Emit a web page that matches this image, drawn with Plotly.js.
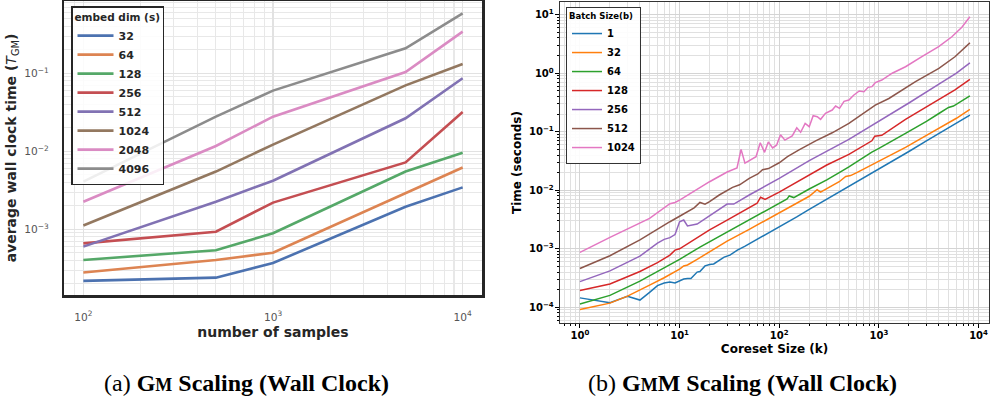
<!DOCTYPE html>
<html>
<head>
<meta charset="utf-8">
<script src="https://cdn.plot.ly/plotly-3.0.1.min.js"></script>
<style>html,body{margin:0;padding:0;background:#fff;}#chart{width:990px;height:410px;}</style>
</head>
<body>
<div id="chart"></div>
<script>
// ---------- (a) GM scaling ----------
const samples = [100, 500, 1000, 5000, 10000];
const embedDims = ['32', '64', '128', '256', '512', '1024', '2048', '4096'];
const gm32   = [2.18e-4, 2.4e-4, 3.7e-4, 1.95e-3, 3.45e-3];
const gm64   = [2.8e-4, 4.05e-4, 5.0e-4, 2.9e-3, 6.2e-3];
const gm128  = [4.05e-4, 5.4e-4, 8.9e-4, 5.5e-3, 9.6e-3];
const gm256  = [6.6e-4, 9.3e-4, 2.2e-3, 7.2e-3, 3.19e-2];
const gm512  = [6.0e-4, 2.26e-3, 4.2e-3, 2.65e-2, 8.63e-2];
const gm1024 = [1.12e-3, 5.5e-3, 1.22e-2, 7.0e-2, 1.32e-1];
const gm2048 = [2.26e-3, 1.17e-2, 2.78e-2, 1.04e-1, 3.42e-1];
const gm4096 = [4.08e-3, 2.78e-2, 6.0e-2, 2.09e-1, 5.87e-1];
const gmSeries = [gm32, gm64, gm128, gm256, gm512, gm1024, gm2048, gm4096];

// ---------- (b) GMM scaling ----------
const batchSizes = ['1', '32', '64', '128', '256', '512', '1024'];
const kB1 = [1,2,3,4,5,6,7,8,9,10,11,12,13,15,16,18,20,22,25,28,32,38,45,60,80,100,150,200,300,500,700,1000,1500,2000,3000,4000,5000,6500,8192];
const tB1 = [1.45e-4,1.2e-4,1.55e-4,1.33e-4,1.8e-4,2.35e-4,2.6e-4,2.7e-4,2.6e-4,2.8e-4,3.05e-4,3.1e-4,3.1e-4,4.0e-4,4.1e-4,5.1e-4,5.4e-4,5.5e-4,6.3e-4,7.2e-4,7.8e-4,9.5e-4,1.1e-3,1.45e-3,1.88e-3,2.35e-3,3.5e-3,4.7e-3,7.0e-3,1.17e-2,1.65e-2,2.35e-2,3.5e-2,4.6e-2,7.0e-2,9.4e-2,1.16e-1,1.5e-1,1.93e-1];
const kB32 = [1,2,3,4,5,7,10,11,12,15,20,30,50,100,150,200,240,260,300,400,465,520,600,850,1000,1850,3000,4000,6000,8192];
const tB32 = [9.2e-5,1.18e-4,1.55e-4,1.95e-4,2.4e-4,3.2e-4,4.5e-4,5.1e-4,5.3e-4,6.6e-4,9.0e-4,1.35e-3,2.15e-3,4.1e-3,6.0e-3,7.9e-3,1.02e-2,9.3e-3,1.07e-2,1.4e-2,1.72e-2,1.78e-2,2.0e-2,2.7e-2,3.1e-2,5.4e-2,8.7e-2,1.14e-1,1.7e-1,2.4e-1];
const kB64 = [1,2,4,6,10,16,20,30,50,80,100,120,126,140,200,300,400,500,850,1000,1850,3000,4000,5000,5600,6500,8192];
const tB64 = [1.14e-4,1.6e-4,2.8e-4,4.1e-4,6.6e-4,1.07e-3,1.32e-3,1.95e-3,3.2e-3,4.9e-3,6.0e-3,7.1e-3,8.0e-3,7.5e-3,1.05e-2,1.5e-2,2.0e-2,2.5e-2,4.5e-2,5.2e-2,9.4e-2,1.5e-1,2.05e-1,2.6e-1,2.75e-1,3.2e-1,4.1e-1];
const kB128 = [1,2,4,6,8,9,10,16,20,30,50,60,65,72,100,200,300,500,850,910,1070,1850,3000,4000,5800,8192];
const tB128 = [1.93e-4,2.5e-4,4.1e-4,5.8e-4,7.8e-4,9.5e-4,1.0e-3,1.65e-3,2.1e-3,3.1e-3,5.0e-3,6.0e-3,7.6e-3,7.0e-3,9.3e-3,1.85e-2,2.7e-2,4.1e-2,7.0e-2,8.4e-2,8.7e-2,1.63e-1,2.65e-1,3.6e-1,5.2e-1,7.85e-1];
const kB256 = [1,2,4,6,7,8,9,10,11,12,15,20,30,35,50,100,200,500,1000,2000,4000,6000,8192];
const tB256 = [2.75e-4,4.2e-4,7.5e-4,1.25e-3,1.45e-3,1.55e-3,1.75e-3,2.9e-3,3.1e-3,2.45e-3,2.65e-3,3.7e-3,5.8e-3,5.8e-3,8.3e-3,1.6e-2,3.2e-2,7.4e-2,1.5e-1,3.1e-1,6.5e-1,1.0,1.5];
const kB512 = [1,2,4,6,8,10,14,16,18,20,25,34,40,50,61,68,78,100,121,158,232,340,500,920,1260,2330,4000,5800,8192];
const tB512 = [4.6e-4,7.6e-4,1.42e-3,2.2e-3,2.9e-3,3.6e-3,5.0e-3,6.2e-3,5.8e-3,6.4e-3,8.3e-3,1.12e-2,1.24e-2,1.6e-2,1.9e-2,2.25e-2,2.35e-2,2.95e-2,3.75e-2,4.9e-2,7.0e-2,9.6e-2,1.39e-1,2.86e-1,3.7e-1,7.2e-1,1.21,1.91,3.3];
const kB1024 = [1,2,5,8,9,10,20,30,37.7,41.4,45.3,58.5,64.5,71.3,77.7,85.8,94,103,114,135,150,164,182,200,219,241,260,291,340,368,403,447,500,558,635,708,780,851,920,1070,1360,1850,2700,3980,5400,6800,8192];
const tB1024 = [8.7e-4,1.57e-3,3.3e-3,5.9e-3,6.2e-3,6.8e-3,1.4e-2,2.05e-2,2.4e-2,5.0e-2,2.9e-2,3.75e-2,6.5e-2,4.45e-2,6.7e-2,5.3e-2,5.9e-2,8.9e-2,7.2e-2,8.5e-2,1.17e-1,9.8e-2,1.39e-1,1.22e-1,1.88e-1,1.81e-1,1.63e-1,2.06e-1,2.35e-1,2.75e-1,2.51e-1,3.3e-1,3.48e-1,4.2e-1,4.97e-1,4.84e-1,5.74e-1,5.9e-1,6.9e-1,7.65e-1,1.0,1.29,1.92,2.84,4.2,6.1,9.25];
const gmmK = [kB1, kB32, kB64, kB128, kB256, kB512, kB1024];
const gmmT = [tB1, tB32, tB64, tB128, tB256, tB512, tB1024];

// ---------- styles ----------
const deepColors = ['#4C72B0','#DD8452','#55A868','#C44E52','#8172B3','#937860','#DA8BC3','#8C8C8C'];
const tabColors = ['#1f77b4','#ff7f0e','#2ca02c','#d62728','#9467bd','#8c564b','#e377c2'];

const traces = [];
embedDims.forEach((name, i) => {
  traces.push({
    type: 'scatter', mode: 'lines', name: name,
    x: samples, y: gmSeries[i], xaxis: 'x', yaxis: 'y', legend: 'legend',
    line: {color: deepColors[i], width: 2.6}
  });
});
batchSizes.forEach((name, i) => {
  traces.push({
    type: 'scatter', mode: 'lines', name: name,
    x: gmmK[i], y: gmmT[i], xaxis: 'x2', yaxis: 'y2', legend: 'legend2',
    line: {color: tabColors[i], width: 1.5}
  });
});

const W = 990, H = 410;
const px = v => v / W, py = v => 1 - v / H;
const dj = 'DejaVu Sans, sans-serif';

const layout = {
  width: W, height: H, autosize: false,
  margin: {l: 0, r: 0, t: 0, b: 0},
  paper_bgcolor: '#ffffff', plot_bgcolor: '#ffffff',
  showlegend: true,
  xaxis: {
    type: 'log', domain: [px(64), px(482)], range: [1.898, 4.102], anchor: 'y',
    dtick: 1, exponentformat: 'power',
    showline: true, mirror: true, linecolor: '#262626', linewidth: 2.5,
    showgrid: true, gridcolor: '#e2e2e2', gridwidth: 1.2,
    ticks: 'outside', ticklen: 11, tickcolor: 'rgba(0,0,0,0)',
    tickfont: {family: dj, size: 8.5, color: '#555555'},
    minor: {dtick: 'D1', showgrid: true, gridcolor: '#e8e8e8', gridwidth: 1.1},
    zeroline: false, automargin: false,
    title: {text: 'number of samples', standoff: 4, font: {family: dj, size: 14, color: '#262626', weight: 'bold'}}
  },
  yaxis: {
    type: 'log', domain: [py(295), py(1)], range: [-3.842, -0.073], anchor: 'x',
    dtick: 1, exponentformat: 'power',
    showline: true, mirror: true, linecolor: '#262626', linewidth: 2.5,
    showgrid: true, gridcolor: '#e2e2e2', gridwidth: 1.2,
    ticks: 'outside', ticklen: 11, tickcolor: 'rgba(0,0,0,0)',
    tickfont: {family: dj, size: 8.5, color: '#555555'},
    minor: {dtick: 'D1', showgrid: true, gridcolor: '#e8e8e8', gridwidth: 1.1},
    zeroline: false, automargin: false,
    title: {text: 'average wall clock time (<span style="font-weight:normal"><i>T</i><sub>GM</sub></span>)', standoff: 5,
            font: {family: dj, size: 14, color: '#262626', weight: 'bold'}}
  },
  xaxis2: {
    type: 'log', domain: [px(560), px(989)], range: [-0.2, 4.105], anchor: 'y2',
    dtick: 1, exponentformat: 'power', labelalias: {'1': '10<sup>0</sup>', '10': '10<sup>1</sup>'},
    showline: true, mirror: true, linecolor: '#333333', linewidth: 1.2,
    showgrid: true, gridcolor: '#d4d4d4', gridwidth: 1,
    ticks: 'outside', ticklen: 3.5, tickwidth: 1, tickcolor: '#000000',
    tickfont: {family: dj, size: 8, color: '#000000', weight: 'bold'},
    minor: {dtick: 'D1', ticks: 'outside', ticklen: 2, tickcolor: '#000000', showgrid: true, gridcolor: '#e0e0e0', gridwidth: 1},
    zeroline: false, automargin: false,
    title: {text: 'Coreset Size (k)', standoff: 4, font: {family: dj, size: 12, color: '#000000', weight: 'bold'}}
  },
  yaxis2: {
    type: 'log', domain: [py(323), py(2)], range: [-4.268, 1.217], anchor: 'x2',
    dtick: 1, exponentformat: 'power', labelalias: {'1': '10<sup>0</sup>', '10': '10<sup>1</sup>'},
    showline: true, mirror: true, linecolor: '#333333', linewidth: 1.2,
    showgrid: true, gridcolor: '#d4d4d4', gridwidth: 1,
    ticks: 'outside', ticklen: 3.5, tickwidth: 1, tickcolor: '#000000',
    tickfont: {family: dj, size: 8, color: '#000000', weight: 'bold'},
    minor: {dtick: 'D1', ticks: 'outside', ticklen: 2, tickcolor: '#000000', showgrid: true, gridcolor: '#e0e0e0', gridwidth: 1},
    zeroline: false, automargin: false,
    title: {text: 'Time (seconds)', standoff: 4, font: {family: dj, size: 12, color: '#000000', weight: 'bold'}}
  },
  legend: {
    x: px(71), y: py(6), xanchor: 'left', yanchor: 'top',
    bgcolor: 'rgba(255,255,255,0.85)', bordercolor: '#262626', borderwidth: 1.5,
    font: {family: dj, size: 11, color: '#262626', weight: 'bold'},
    title: {text: 'embed dim (s)', font: {family: dj, size: 10.5, color: '#262626', weight: 'bold'}},
    itemwidth: 36, tracegroupgap: 0
  },
  legend2: {
    x: px(566), y: py(7), xanchor: 'left', yanchor: 'top',
    bgcolor: 'rgba(255,255,255,0.9)', bordercolor: '#333333', borderwidth: 1,
    font: {family: dj, size: 10, color: '#000000', weight: 'bold'},
    title: {text: 'Batch Size(b)', font: {family: dj, size: 8.5, color: '#000000', weight: 'bold'}},
    itemwidth: 30, tracegroupgap: 0
  },
  annotations: [
    {xref: 'paper', yref: 'paper', x: px(246), y: py(383), xanchor: 'center', yanchor: 'middle', showarrow: false,
     text: '(a) <b>G<span style="font-size:18px">M</span> Scaling (Wall Clock)</b>',
     font: {family: 'Liberation Serif, serif', size: 24, color: '#000000'}},
    {xref: 'paper', yref: 'paper', x: px(742), y: py(383), xanchor: 'center', yanchor: 'middle', showarrow: false,
     text: '(b) <b>G<span style="font-size:18px">M</span>M Scaling (Wall Clock)</b>',
     font: {family: 'Liberation Serif, serif', size: 24, color: '#000000'}}
  ]
};

Plotly.newPlot('chart', traces, layout, {displayModeBar: false, staticPlot: true});
</script>
</body>
</html>
